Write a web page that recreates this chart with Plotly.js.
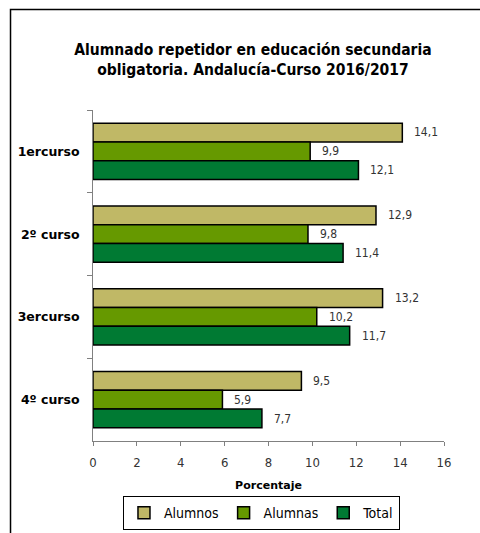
<!DOCTYPE html>
<html><head><meta charset="utf-8">
<script src="https://cdn.plot.ly/plotly-3.0.1.min.js"></script>
<style>html,body{margin:0;padding:0;background:#fff}#chart{width:480px;height:533px}</style>
</head><body><div id="chart"></div>
<script>
var categories = ['1ercurso', '2º curso', '3ercurso', '4º curso'];
var seriesNames = ['Alumnos', 'Alumnas', 'Total'];
var alumnos = [14.1, 12.9, 13.2, 9.5];
var alumnas = [9.9, 9.8, 10.2, 5.9];
var total = [12.1, 11.4, 11.7, 7.7];
var xTicks = [0, 2, 4, 6, 8, 10, 12, 14, 16];

var colors = ['#C0B866', '#669900', '#007A33'];
var values = [alumnos, alumnas, total];
var narrow = '"Liberation Sans Narrow", "Arial Narrow", "DejaVu Sans Condensed", sans-serif';

var traces = values.map(function (v, i) {
  return {
    type: 'bar', orientation: 'h', name: seriesNames[i],
    x: v, y: categories,
    marker: {color: colors[i], line: {color: '#000', width: 1.5}},
    hoverinfo: 'skip'
  };
});

var annotations = [];
values.forEach(function (v, i) {
  v.forEach(function (val, j) {
    annotations.push({
      x: val, y: categories[j], xref: 'x', yref: 'y',
      text: val.toFixed(1).replace('.', ','),
      showarrow: false, xanchor: 'left', yanchor: 'middle',
      xshift: 10, yshift: (1 - i) * 19,
      font: {family: narrow, size: 12, color: '#333'}
    });
  });
});

var layout = {
  width: 480, height: 533,
  margin: {l: 93, r: 36, t: 110, b: 92, autoexpand: false},
  paper_bgcolor: '#fff', plot_bgcolor: '#fff',
  separators: ',.',
  barmode: 'group', bargap: 0.32, bargroupgap: 0,
  title: {
    text: 'Alumnado repetidor en educación secundaria<br>obligatoria. Andalucía-Curso 2016/2017',
    x: 0.527, xanchor: 'center', y: 0.897, yanchor: 'top',
    font: {family: '"DejaVu Sans Condensed", "DejaVu Sans", sans-serif', size: 15.5, color: '#000', weight: 'bold'}
  },
  xaxis: {
    range: [0, 16], tickvals: xTicks, ticktext: xTicks.map(String),
    showgrid: false, zeroline: false,
    showline: true, linecolor: '#808080', linewidth: 1,
    ticks: 'outside', ticklen: 4, tickcolor: '#808080',
    ticklabelstandoff: 5,
    tickfont: {family: narrow, size: 13, color: '#333'},
    title: {text: 'Porcentaje', standoff: 12,
      font: {family: '"DejaVu Sans", sans-serif', size: 11, color: '#000', weight: 'bold'}},
    automargin: false, fixedrange: true
  },
  yaxis: {
    type: 'category', autorange: 'reversed',
    showgrid: false, zeroline: false,
    showline: true, linecolor: '#808080', linewidth: 1,
    ticks: 'outside', ticklen: 5, tickcolor: '#808080', tickson: 'boundaries',
    ticklabelstandoff: 10,
    tickfont: {family: '"DejaVu Sans", sans-serif', size: 12.5, color: '#000', weight: 'bold'},
    automargin: false, fixedrange: true
  },
  legend: {
    orientation: 'h', x: 0.48, xanchor: 'center', y: -0.218, yanchor: 'middle',
    bordercolor: '#000', borderwidth: 1, bgcolor: '#fff',
    font: {family: narrow, size: 14, color: '#000'},
    itemwidth: 30, traceorder: 'normal'
  },
  annotations: annotations,
  shapes: [{
    type: 'rect', xref: 'paper', yref: 'paper',
    x0: -0.235, x1: 1.25, y0: -0.35, y1: 1.3036,
    line: {color: '#000', width: 1.5}, fillcolor: 'rgba(0,0,0,0)', layer: 'above'
  }],
  showlegend: true
};

Plotly.newPlot('chart', traces, layout, {displayModeBar: false, staticPlot: true});
</script></body></html>
